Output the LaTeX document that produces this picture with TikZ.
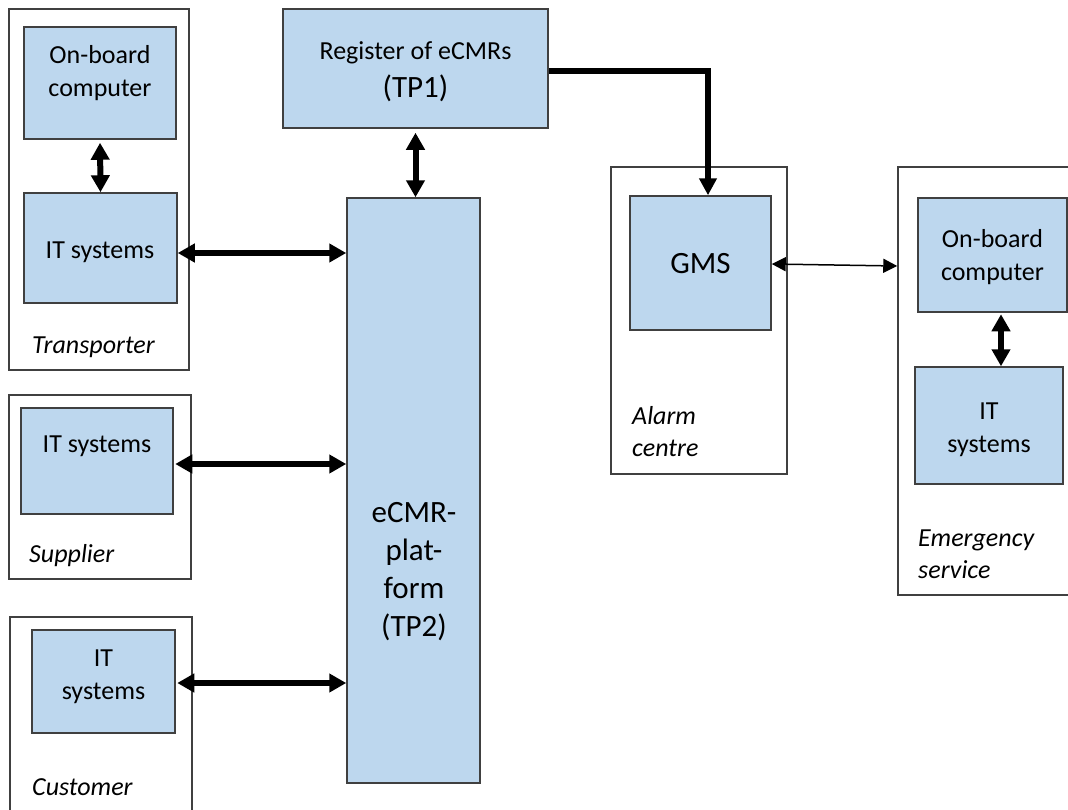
\documentclass[tikz,border=0pt]{standalone}
\usepackage{fontspec}
\setmainfont{Carlito}
\usetikzlibrary{arrows.meta,calc}
\definecolor{boxfill}{HTML}{BDD7EE}
\definecolor{edge}{HTML}{404040}
\tikzset{
  panel/.style={draw=edge, line width=1.5pt, fill=white, inner sep=0pt},
  unit/.style={draw=edge, line width=1.5pt, fill=boxfill, inner sep=0pt},
  txt/.style={inner sep=0pt, font=\fontsize{26}{33}\selectfont, align=center},
  bigtxt/.style={inner sep=0pt, font=\fontsize{31}{38}\selectfont, align=center},
  role/.style={inner sep=0pt, font=\fontsize{26}{32}\selectfont\itshape, align=left},
  link/.style={line width=6pt, {Triangle[length=17pt,width=18pt]}-{Triangle[length=17pt,width=18pt]}},
  feed/.style={line width=6pt, -{Triangle[length=17pt,width=17pt]}},
  thinlink/.style={line width=1.5pt, {Triangle[length=14pt,width=14pt]}-{Triangle[length=14pt,width=14pt]}},
}
\begin{document}
\begin{tikzpicture}[x=1pt,y=-1pt]
\clip (0,0) rectangle (1068,809);
\fill[white] (0,0) rectangle (1068,809);

% organisation panels
\node[panel, minimum width=180pt, minimum height=361pt] (transporter) at (99,189.5) {};
\node[panel, minimum width=182pt, minimum height=184pt] (supplier) at (100,487) {};
\node[panel, minimum width=182pt, minimum height=213pt] (customer) at (101,723.5) {};
\node[panel, minimum width=176pt, minimum height=307pt] (alarm) at (699,320.5) {};
\node[panel, minimum width=192pt, minimum height=428pt] (emerg) at (994,381) {};

% system boxes
\node[unit, minimum width=152pt, minimum height=112pt] (tobc) at (100,83) {};
\node[unit, minimum width=153pt, minimum height=110pt] (tit) at (100.5,248) {};
\node[unit, minimum width=152pt, minimum height=106pt] (sit) at (97,461) {};
\node[unit, minimum width=143pt, minimum height=103pt] (cit) at (103.5,681.5) {};
\node[unit, minimum width=265pt, minimum height=119pt] (reg) at (415.5,68.5) {};
\node[unit, minimum width=133pt, minimum height=585pt] (plat) at (413.5,490.5) {};
\node[unit, minimum width=141pt, minimum height=134pt] (gms) at (700.5,263) {};
\node[unit, minimum width=149pt, minimum height=114pt] (eobc) at (992.5,255) {};
\node[unit, minimum width=148pt, minimum height=117pt] (eit) at (989,425.5) {};

% texts
\node[txt] (tobcT) at (100,73.5) {On-board\\computer};
\node[txt, anchor=base] (titT) at (100,258) {IT systems};
\node[role, anchor=base west] (transT) at (32,353) {Transporter};
\node[txt, anchor=base] (sitT) at (97,452) {IT systems};
\node[role, anchor=base west] (suppT) at (29,562) {Supplier};
\node[txt] (citT) at (103.5,676.4) {IT\\systems};
\node[role, anchor=base west] (custT) at (32,795) {Customer};
\node[txt, anchor=base] (regT) at (415.5,59) {Register of eCMRs};
\node[bigtxt, anchor=base] (regT2) at (415.5,97) {(TP1)};
\node[bigtxt] (platT) at (414,571.5) {eCMR-\\plat-\\form\\(TP2)};
\node[bigtxt, anchor=base] (gmsT) at (700.5,273) {GMS};
\node[role, anchor=west] (alarmT) at (632,432) {Alarm\\centre};
\node[txt] (eobcT) at (992.5,257.5) {On-board\\computer};
\node[txt] (eitT) at (989,430) {IT\\systems};
\node[role, anchor=west] (emergT) at (918,554) {Emergency\\service};

% connectors
\draw[link, shorten <=3pt] (tobc.south) -- (tit.north);
\draw[link, shorten <=4pt] (reg.south) -- (reg.south |- plat.north);
\draw[link] ([yshift=-5pt]tit.east) -- ([yshift=-5pt]tit.east -| plat.west);
\draw[link, shorten <=1.5pt] ([yshift=-3pt]sit.east) -- ([yshift=-3pt]sit.east -| plat.west);
\draw[link, shorten <=1.5pt] ([yshift=-1.5pt]cit.east) -- ([yshift=-1.5pt]cit.east -| plat.west);
\draw[feed] ([yshift=-2.5pt]reg.east) -| ([xshift=7.5pt]gms.north);
\draw[thinlink] ([yshift=-1pt]gms.east) -- ([yshift=-3pt]gms.east -| emerg.west);
\draw[link, shorten <=1.5pt] ([xshift=8.5pt]eobc.south) -- ([xshift=8.5pt]eobc.south |- eit.north);
\end{tikzpicture}
\end{document}
